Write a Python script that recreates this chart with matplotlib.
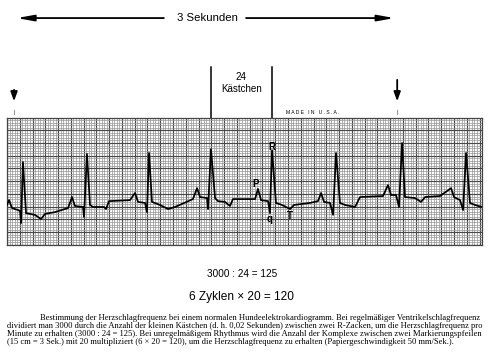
import numpy as np
import matplotlib.pyplot as plt

# ECG trace: time in ms, amplitude in mm (small boxes)
t_ms = [0, 16, 39, 86, 102, 110, 125, 149, 219, 266, 298, 376, 478, 509, 532,
        595, 603, 626, 650, 673, 760, 775, 799, 963, 1002, 1026, 1081, 1096,
        1112, 1135, 1198, 1261, 1315, 1456, 1488, 1511, 1566, 1574, 1597, 1629,
        1652, 1707, 1746, 1769, 1942, 1965, 1989, 2044, 2059, 2075, 2106, 2153,
        2216, 2247, 2372, 2435, 2459, 2482, 2529, 2553, 2576, 2607, 2647, 2725,
        2764, 2944, 2983, 3007, 3046, 3069, 3093, 3116, 3195, 3242, 3273, 3390,
        3477, 3500, 3547, 3571, 3594, 3625, 3664, 3719]
v_mm = [15.7, 17.6, 14.5, 13.7, 13.3, 8.6, 32.5, 12.5, 11.8, 10.2, 12.2, 12.9,
        14.5, 18.8, 15.3, 14.9, 11.0, 35.7, 15.7, 14.9, 14.9, 14.1, 17.2, 17.6,
        20.4, 16.9, 16.5, 12.9, 36.1, 16.9, 15.7, 14.1, 14.9, 18.0, 22.3, 18.8,
        18.4, 14.1, 37.6, 18.4, 17.2, 16.9, 15.3, 18.0, 18.0, 22.0, 17.6, 17.2,
        12.5, 37.2, 16.5, 15.7, 14.1, 15.7, 16.5, 17.2, 20.4, 16.9, 16.5, 11.8,
        36.1, 16.5, 15.7, 14.9, 18.8, 19.2, 23.5, 19.6, 19.6, 14.9, 40.0, 18.8,
        18.4, 16.9, 18.8, 19.2, 22.3, 18.8, 17.6, 13.7, 36.1, 16.5, 15.7, 14.9]

marker_ms = [55, 3055]          # the two marker arrows, 3 s apart
box_ms = [1597, 2075]           # R-R interval spanning 24 small boxes
wave_labels = ['P', 'R', 'q', 'T']
wave_pos = [(1950, 24.0), (2075, 38.4), (2059, 10.2), (2216, 11.4)]

formula1 = '3000 : 24 = 125'
formula2 = '6 Zyklen \u00d7 20 = 120'
caption = [
    'Bestimmung der Herzschlagfrequenz bei einem normalen Hundeelektrokardiogramm. Bei regelm\u00e4\u00dfiger Ventrikelschlagfrequenz',
    'dividiert man 3000 durch die Anzahl der kleinen K\u00e4stchen (d. h. 0,02 Sekunden) zwischen zwei R-Zacken, um die Herzschlagfrequenz pro',
    'Minute zu erhalten (3000 : 24 = 125). Bei unregelm\u00e4\u00dfigem Rhythmus wird die Anzahl der Komplexe zwischen zwei Markierungspfeilen',
    '(15 cm = 3 Sek.) mit 20 multipliziert (6 \u00d7 20 = 120), um die Herzschlagfrequenz zu erhalten (Papiergeschwindigkeit 50 mm/Sek.).',
]

W, H = 500, 353
fig = plt.figure(figsize=(W / 100, H / 100), dpi=100)
fig.patch.set_facecolor('white')

# strip chart axes (pixel box 7..482 x 118..245)
ax = fig.add_axes([7 / W, 1 - 245 / H, 475 / W, 127 / H])
xmax, ymax = 3719, 49.8
ax.set_xlim(0, xmax)
ax.set_ylim(0, ymax)
ax.set_xticks([])
ax.set_yticks([])
for s in ax.spines.values():
    s.set_color('#444444')
    s.set_linewidth(0.9)

# paper grid: 1 mm = 20 ms small boxes, 5 mm big boxes
for x in np.arange(0, xmax, 20):
    big = int(round(x)) % 100 == 0
    ax.axvline(x, color='#4a4a4a' if big else '#969696', lw=0.85 if big else 0.5, zorder=1)
for y in np.arange(0, ymax, 1):
    big = int(round(y)) % 5 == 0
    ax.axhline(y, color='#4a4a4a' if big else '#969696', lw=0.85 if big else 0.5, zorder=1)

ax.plot(t_ms, v_mm, color='black', lw=1.25, solid_joinstyle='round', zorder=3)

for lab, (x, y) in zip(wave_labels, wave_pos):
    ax.text(x, y, lab, ha='center', va='center', fontsize=7, fontweight='bold',
            family='Liberation Sans', zorder=4)

# annotations above the strip (same time axis, drawn outside the clip box)
px = 1 / 0.392   # px per mm
def ymm(ypx):
    return (245 - ypx) / px

for i, t in enumerate(marker_ms):
    top = 87 if i == 0 else 77
    ax.annotate('', xy=(t, ymm(104)), xytext=(t, ymm(top)), annotation_clip=False,
                arrowprops=dict(arrowstyle='-|>,head_length=0.55,head_width=0.2',
                                color='black', lw=1.3))
    ax.plot([t, t], [ymm(114), ymm(110)], color='#999999', lw=0.8, clip_on=False)

for t in box_ms:
    ax.plot([t, t], [ymax, ymm(67)], color='black', lw=1.1, clip_on=False)
mid = sum(box_ms) / 2
ax.text(mid, ymm(77), '24', ha='center', va='center', fontsize=7.1, family='Liberation Sans')
ax.text(mid, ymm(88.5), 'K\u00e4stchen', ha='center', va='center', fontsize=7.1, family='Liberation Sans')
ax.text(2390, ymm(112), 'M A D E   I N   U . S . A .', ha='center', va='center', fontsize=3.6,
        family='Liberation Sans')

# 3 seconds arrow
y3 = ymm(18)
ax.text(sum(marker_ms) / 2 + 15, y3, '3 Sekunden', ha='center', va='center', fontsize=8.2,
        family='Liberation Sans')
ax.annotate('', xy=(marker_ms[0], y3), xytext=(1250, y3), annotation_clip=False,
            arrowprops=dict(arrowstyle='-|>,head_length=1.0,head_width=0.18', color='black', lw=1.3))
ax.annotate('', xy=(marker_ms[1], y3), xytext=(1850, y3), annotation_clip=False,
            arrowprops=dict(arrowstyle='-|>,head_length=1.0,head_width=0.18', color='black', lw=1.3))

# formulas and caption below
fig.text(242 / W, 1 - 274 / H, formula1, ha='center', va='center', fontsize=7.2, family='Liberation Sans')
fig.text(241 / W, 1 - 297 / H, formula2, ha='center', va='center', fontsize=8.6, family='Liberation Sans')

fig.canvas.draw()
r = fig.canvas.get_renderer()
line_y = [317.5, 325.8, 334, 342.3]
line_x = [40, 7, 7, 7]
line_w = [440, 473, 473, 443]
for txt, y, x0, w in zip(caption, line_y, line_x, line_w):
    t = fig.text(x0 / W, 1 - y / H, txt, ha='left', va='center', fontsize=5,
                 family='Liberation Serif')
    bw = t.get_window_extent(r).width
    t.set_fontsize(5 * w / bw)

fig.savefig('out.png', dpi=100)
